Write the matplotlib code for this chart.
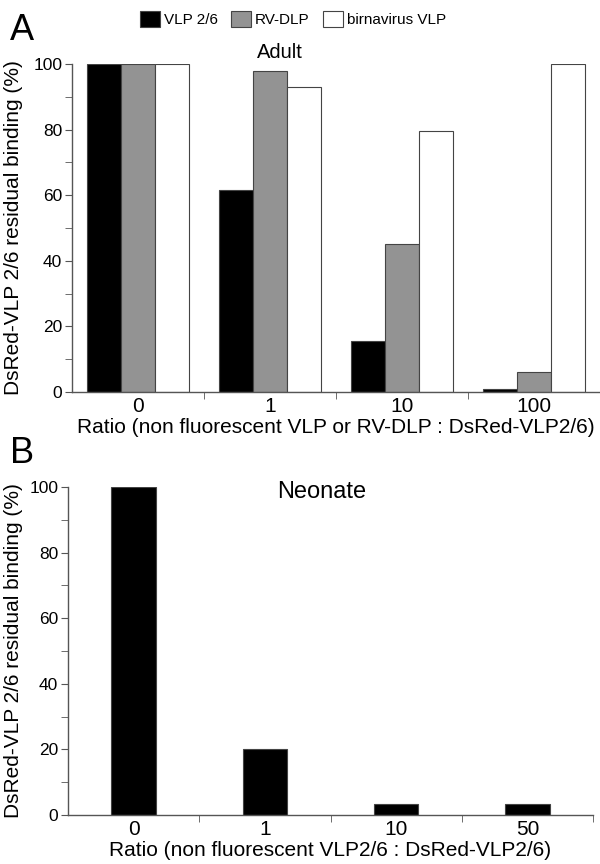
import matplotlib
matplotlib.use("Agg")
import matplotlib.pyplot as plt
import numpy as np
from matplotlib.patches import Patch

plt.rcParams['font.family'] = ['Liberation Sans', 'DejaVu Sans']

# Panel A data
adult_ratios = ["0", "1", "10", "100"]
vlp26_adult = [100, 61.5, 15.5, 1]
rvdlp_adult = [100, 98, 45, 6]
birna_adult = [100, 93, 79.5, 100]
series_names = ["VLP 2/6", "RV-DLP", "birnavirus VLP"]

# Panel B data
neonate_ratios = ["0", "1", "10", "50"]
vlp26_neonate = [100, 20, 3.5, 3.5]

ylabel = "DsRed-VLP 2/6 residual binding (%)"
xlabel_a = "Ratio (non fluorescent VLP or RV-DLP : DsRed-VLP2/6)"
xlabel_b = "Ratio (non fluorescent VLP2/6 : DsRed-VLP2/6)"

W, H = 600, 864
fig = plt.figure(figsize=(W/100, H/100), dpi=100)

axcol = "#555555"
edgecol = "#444444"
colors = ["#000000", "#939393", "#ffffff"]
fs = 12.5
lfs = 15


def style(ax, n):
    for s in ["top", "right"]:
        ax.spines[s].set_visible(False)
    for s in ["left", "bottom"]:
        ax.spines[s].set_color(axcol)
        ax.spines[s].set_linewidth(1.0)
    ax.set_ylim(0, 100)
    ax.set_xlim(-0.5, n - 0.5)
    ax.set_yticks(np.arange(0, 101, 20))
    ax.set_yticks(np.arange(10, 100, 20), minor=True)
    ax.tick_params(axis='y', which='both', length=5, color=axcol, labelsize=fs, pad=2)
    ax.set_xticks(np.arange(n) + 0.5, minor=True)
    ax.tick_params(axis='x', which='minor', length=5, color=axcol)
    ax.tick_params(axis='x', which='major', length=0, labelsize=lfs, pad=3.5)


# Panel A
axA = fig.add_axes([72/W, 1 - 392/H, (600 - 72)/W, (392 - 64)/H])
x = np.arange(len(adult_ratios))
bw = 0.26
for i, (vals, c) in enumerate(zip([vlp26_adult, rvdlp_adult, birna_adult], colors)):
    axA.bar(x + (i - 1) * bw, vals, width=bw, color=c, edgecolor=edgecol, linewidth=0.8, label=series_names[i])
style(axA, len(adult_ratios))
axA.set_xticks(x)
axA.set_xticklabels(adult_ratios)
axA.set_xlabel(xlabel_a, fontsize=lfs, labelpad=1.5)
fig.text(14/W, 1 - 228/H, ylabel, rotation=90, ha='center', va='center', fontsize=lfs)

handles = [Patch(facecolor=c, edgecolor=edgecol, linewidth=0.8) for c in colors]
fig.legend(handles, series_names, loc='center', bbox_to_anchor=(293/W, 1 - 19/H), ncol=3,
           frameon=False, fontsize=11, handlelength=1.3, handleheight=1.2, handletextpad=0.25,
           columnspacing=0.9)
fig.text(280/W, 1 - 53/H, "Adult", ha='center', va='center', fontsize=14.5)
fig.text(10/W, 1 - 30/H, "A", ha='left', va='center', fontsize=26)

# Panel B
axB = fig.add_axes([68/W, 1 - 815/H, (593 - 68)/W, (815 - 487)/H])
xb = np.arange(len(neonate_ratios))
axB.bar(xb, vlp26_neonate, width=0.34, color="#000000", edgecolor=edgecol, linewidth=0.8)
style(axB, len(neonate_ratios))
axB.set_xticks(xb)
axB.set_xticklabels(neonate_ratios)
axB.set_xlabel(xlabel_b, fontsize=lfs, labelpad=1.5)
fig.text(14/W, 1 - 651/H, ylabel, rotation=90, ha='center', va='center', fontsize=lfs)
fig.text(322/W, 1 - 492/H, "Neonate", ha='center', va='center', fontsize=17)
fig.text(10/W, 1 - 454/H, "B", ha='left', va='center', fontsize=26)

fig.savefig("out.png", dpi=100)
